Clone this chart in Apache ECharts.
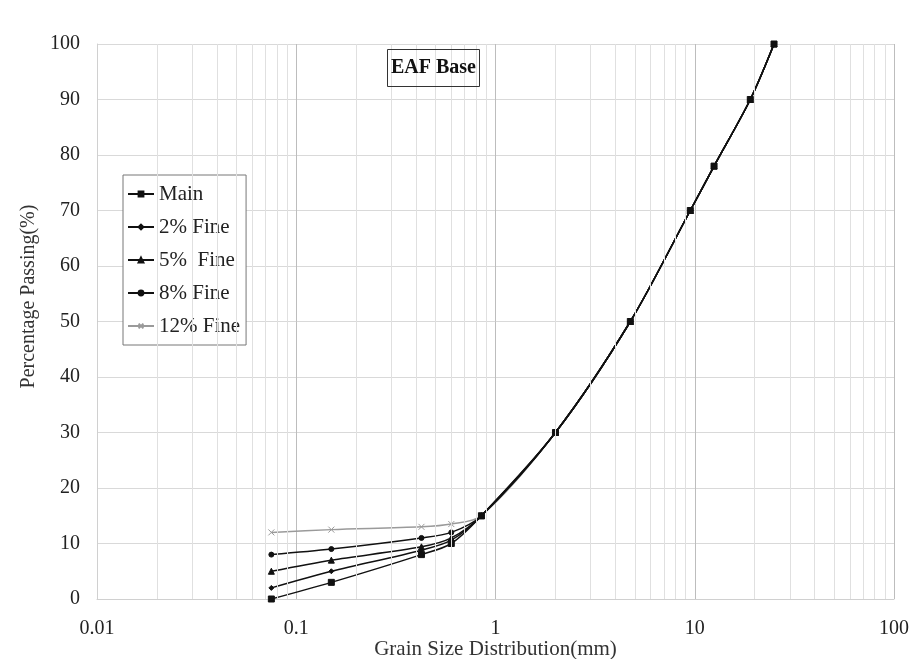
<!DOCTYPE html>
<html>
<head>
<meta charset="utf-8">
<script src="https://cdn.jsdelivr.net/npm/echarts@6/dist/echarts.min.js"></script>
<style>
  html, body { margin: 0; padding: 0; background: #fff; }
  #chart { width: 923px; height: 659px; }
</style>
</head>
<body>
<div id="chart"></div>
<script>
// sieve sizes (mm)
const sizes = [0.075, 0.15, 0.425, 0.6, 0.85, 2, 4.75, 9.5, 12.5, 19, 25];

// percentage passing for each blend
const mainPass = [0, 3, 8, 10, 15, 30, 50, 70, 78, 90, 100];
const fine2Pass = [2, 5, 8.8, 10.6, 15, 30, 50, 70, 78, 90, 100];
const fine5Pass = [5, 7, 9.4, 11, 15, 30, 50, 70, 78, 90, 100];
const fine8Pass = [8, 9, 11, 12, 15, 30, 50, 70, 78, 90, 100];
const fine12Pass = [12, 12.5, 13, 13.5, 15, 30, 50, 70, 78, 90, 100];

const seriesNames = ["Main", "2% Fine", "5%  Fine", "8% Fine", "12% Fine"];

// minor log gridlines (2..9 in each decade)
const minorGrid = [
  0.02, 0.03, 0.04, 0.05, 0.06, 0.07, 0.08, 0.09,
  0.2, 0.3, 0.4, 0.5, 0.6, 0.7, 0.8, 0.9,
  2, 3, 4, 5, 6, 7, 8, 9,
  20, 30, 40, 50, 60, 70, 80, 90
];

const font = "'Liberation Serif', 'Times New Roman', serif";

const pairs = (ys) => sizes.map((x, i) => [x, ys[i]]);

const chart = echarts.init(document.getElementById("chart"));

function lineSeries(name, ys, symbol, size, color) {
  return {
    name: name,
    type: "line",
    data: pairs(ys),
    smooth: 0.3,
    symbol: symbol,
    symbolSize: size,
    showAllSymbol: true,
    lineStyle: { color: color, width: 1.5 },
    itemStyle: { color: color, borderColor: color, borderWidth: 1 },
    z: 3
  };
}

chart.setOption({
  animation: false,
  backgroundColor: "#fff",
  textStyle: { fontFamily: font },
  title: {
    text: "EAF Base",
    left: 387,
    top: 49,
    padding: [9, 4],
    borderColor: "#333",
    borderWidth: 1,
    textStyle: { fontFamily: font, fontWeight: "bold", fontSize: 20, color: "#111" }
  },
  legend: {
    orient: "vertical",
    left: 123,
    top: 175,
    data: seriesNames,
    padding: [8, 6, 8, 4],
    itemGap: 11,
    itemWidth: 26,
    itemHeight: 6,
    borderColor: "#777",
    borderWidth: 1,
    backgroundColor: "#fff",
    textStyle: { fontFamily: font, fontSize: 21, color: "#222", lineHeight: 22 }
  },
  grid: { left: 97, right: 29, top: 44, bottom: 60, outerBoundsMode: "none", containLabel: false },
  xAxis: {
    type: "log",
    logBase: 10,
    min: 0.01,
    max: 100,
    name: "Grain Size Distribution(mm)",
    nameLocation: "middle",
    nameGap: 40,
    nameMoveOverlap: false,
    nameTextStyle: { fontFamily: font, fontSize: 21, color: "#333" },
    axisLine: { lineStyle: { color: "#d0d0d0" } },
    axisTick: { show: false },
    axisLabel: {
      fontFamily: font, fontSize: 20, color: "#222", margin: 20,
      formatter: (v) => String(v)
    },
    splitLine: { show: true, lineStyle: { color: "#bdbdbd", width: 1 } }
  },
  yAxis: {
    type: "value",
    min: 0,
    max: 100,
    interval: 10,
    name: "Percentage Passing(%)",
    nameLocation: "middle",
    nameGap: 58,
    nameMoveOverlap: false,
    nameTextStyle: { fontFamily: font, fontSize: 20, color: "#333", padding: [0, 0, 0, 50] },
    axisLine: { show: true, lineStyle: { color: "#d0d0d0" } },
    axisTick: { show: false },
    axisLabel: { fontFamily: font, fontSize: 20, color: "#222", margin: 17 },
    splitLine: { lineStyle: { color: "#d9d9d9" } }
  },
  series: [
    {
      name: "grid",
      type: "line",
      data: [],
      silent: true,
      z: 1,
      markLine: {
        silent: true,
        symbol: ["none", "none"],
        label: { show: false },
        lineStyle: { color: "#e0e0e0", type: "solid", width: 1 },
        data: minorGrid.map((v) => ({ xAxis: v }))
      }
    },
    lineSeries("12% Fine", fine12Pass,
      "path://M0,0L10,10M10,0L0,10", 6, "#9a9a9a"),
    lineSeries("8% Fine", fine8Pass, "circle", 5, "#111"),
    lineSeries("5%  Fine", fine5Pass, "triangle", 6, "#111"),
    lineSeries("2% Fine", fine2Pass, "diamond", 5, "#111"),
    lineSeries("Main", mainPass, "rect", 6, "#111")
  ]
});
</script>
</body>
</html>
